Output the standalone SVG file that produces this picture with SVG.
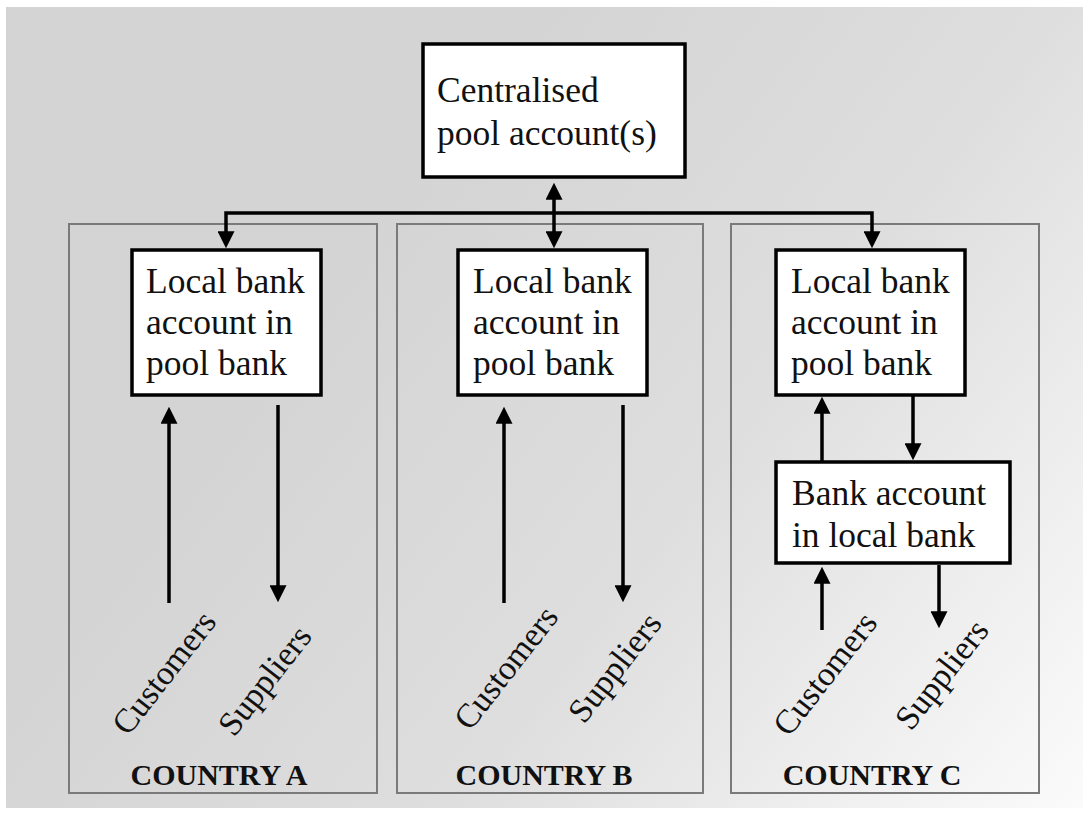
<svg xmlns="http://www.w3.org/2000/svg" width="1083" height="814" viewBox="0 0 1083 814">
<defs>
<linearGradient id="bg" gradientUnits="userSpaceOnUse" x1="350" y1="250" x2="1083" y2="810">
<stop offset="0" stop-color="#d4d4d4"/>
<stop offset="0.45" stop-color="#dedede"/>
<stop offset="1" stop-color="#fbfbfb"/>
</linearGradient>
<marker id="ah" viewBox="0 0 10 10" refX="4" refY="5" markerWidth="17" markerHeight="17" markerUnits="userSpaceOnUse" orient="auto-start-reverse">
<path d="M0,0 L10,5 L0,10 z" fill="#000"/>
</marker>
<style>
.box{fill:#fff;stroke:#000;stroke-width:3.5}
.country{fill:none;stroke:#7a7a7a;stroke-width:2}
.t{font-family:"Liberation Serif","Times New Roman",serif;font-size:35.5px;fill:#111}
.r{font-family:"Liberation Serif","Times New Roman",serif;font-size:34px;fill:#111}
.lbl{font-family:"Liberation Serif","Times New Roman",serif;font-size:30px;font-weight:bold;fill:#111;text-anchor:middle}
.c{fill:none;stroke:#000;stroke-width:3.5}
</style>
</defs>
<rect width="1083" height="814" fill="#fff"/>
<rect x="6" y="7" width="1077" height="801" fill="url(#bg)"/>

<g id="countryA"><rect class="country" x="69" y="224" width="308" height="569"/><text class="lbl" x="219" y="785">COUNTRY A</text></g>
<g id="countryB"><rect class="country" x="397" y="224" width="306" height="569"/><text class="lbl" x="544" y="785">COUNTRY B</text></g>
<g id="countryC"><rect class="country" x="731" y="224" width="308" height="569"/><text class="lbl" x="872" y="785">COUNTRY C</text></g>

<g id="central"><rect class="box" x="423" y="44" width="262" height="133"/>
<text class="t" x="437" y="102">Centralised</text><text class="t" x="437" y="145">pool account(s)</text></g>

<g id="localA"><rect class="box" x="132" y="250" width="189" height="145"/>
<text class="t" x="146" y="293">Local bank</text><text class="t" x="146" y="334">account in</text><text class="t" x="146" y="375">pool bank</text></g>
<g id="localB"><rect class="box" x="458" y="250" width="189" height="145"/>
<text class="t" x="473" y="293">Local bank</text><text class="t" x="473" y="334">account in</text><text class="t" x="473" y="375">pool bank</text></g>
<g id="localC"><rect class="box" x="776" y="250" width="189" height="145"/>
<text class="t" x="791" y="293">Local bank</text><text class="t" x="791" y="334">account in</text><text class="t" x="791" y="375">pool bank</text></g>
<g id="bankLocalC"><rect class="box" x="776" y="462" width="234" height="101"/>
<text class="t" x="792" y="505">Bank account</text><text class="t" x="792" y="547">in local bank</text></g>

<g id="customersA"><text class="r" transform="translate(128,737) rotate(-52)">Customers</text></g>
<g id="suppliersA"><text class="r" transform="translate(234,738) rotate(-52)">Suppliers</text></g>
<g id="customersB"><text class="r" transform="translate(470,732) rotate(-52)">Customers</text></g>
<g id="suppliersB"><text class="r" transform="translate(584,725) rotate(-52)">Suppliers</text></g>
<g id="customersC"><text class="r" transform="translate(789,738) rotate(-52)">Customers</text></g>
<g id="suppliersC"><text class="r" transform="translate(911,732) rotate(-52)">Suppliers</text></g>

<g id="connectors">
<line class="c" x1="554" y1="193" x2="554" y2="238" marker-start="url(#ah)" marker-end="url(#ah)"/>
<path class="c" d="M554,213 H226 V238" marker-end="url(#ah)"/>
<path class="c" d="M554,213 H872 V238" marker-end="url(#ah)"/>
<line class="c" x1="169" y1="603" x2="169" y2="417" marker-end="url(#ah)"/>
<line class="c" x1="278" y1="405" x2="278" y2="592" marker-end="url(#ah)"/>
<line class="c" x1="504" y1="603" x2="504" y2="417" marker-end="url(#ah)"/>
<line class="c" x1="623" y1="405" x2="623" y2="592" marker-end="url(#ah)"/>
<line class="c" x1="822" y1="462" x2="822" y2="407" marker-end="url(#ah)"/>
<line class="c" x1="913" y1="396" x2="913" y2="450" marker-end="url(#ah)"/>
<line class="c" x1="822" y1="630" x2="822" y2="577" marker-end="url(#ah)"/>
<line class="c" x1="939" y1="565" x2="939" y2="618" marker-end="url(#ah)"/>
</g>
</svg>
